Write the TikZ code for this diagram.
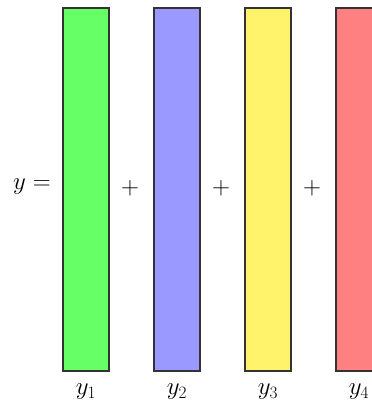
\documentclass[tikz,border=0pt]{standalone}
\usepackage{amsmath}
\usepackage{tikz}
\usetikzlibrary{positioning}

\definecolor{barGreen}{HTML}{66FF66}
\definecolor{barBlue}{HTML}{9999FF}
\definecolor{barYellow}{HTML}{FFF36B}
\definecolor{barRed}{HTML}{FF8080}
\definecolor{barEdge}{HTML}{333333}

\begin{document}
\begin{tikzpicture}[
  x=1pt,y=-1pt,
  bar/.style={draw=barEdge, line width=1.6pt, minimum width=46pt, minimum height=363pt, inner sep=0pt, anchor=north west},
  lbl/.style={font=\fontsize{25}{30}\selectfont, inner sep=0pt},
  plus/.style={font=\fontsize{24}{28}\selectfont, inner sep=0pt}
]
\useasboundingbox (0,0) rectangle (372,407);
\clip (0,0) rectangle (372,407);
\node[bar, fill=barGreen] (b1) at (62,7) {};
\node[bar, fill=barBlue] (b2) at (153,7) {};
\node[bar, fill=barYellow] (b3) at (244,7) {};
\node[bar, fill=barRed] (b4) at (335,7) {};
\node[lbl, anchor=east] (lhs) at (51,187) {$y =$};
\node[plus] (p1) at (130,188) {$+$};
\node[plus] (p2) at (221,188) {$+$};
\node[plus] (p3) at (312,188) {$+$};
\node[lbl] (y1) at (86,392) {$y_1$};
\node[lbl] (y2) at (177,392) {$y_2$};
\node[lbl] (y3) at (268,392) {$y_3$};
\node[lbl] (y4) at (359,392) {$y_4$};
\end{tikzpicture}
\end{document}
